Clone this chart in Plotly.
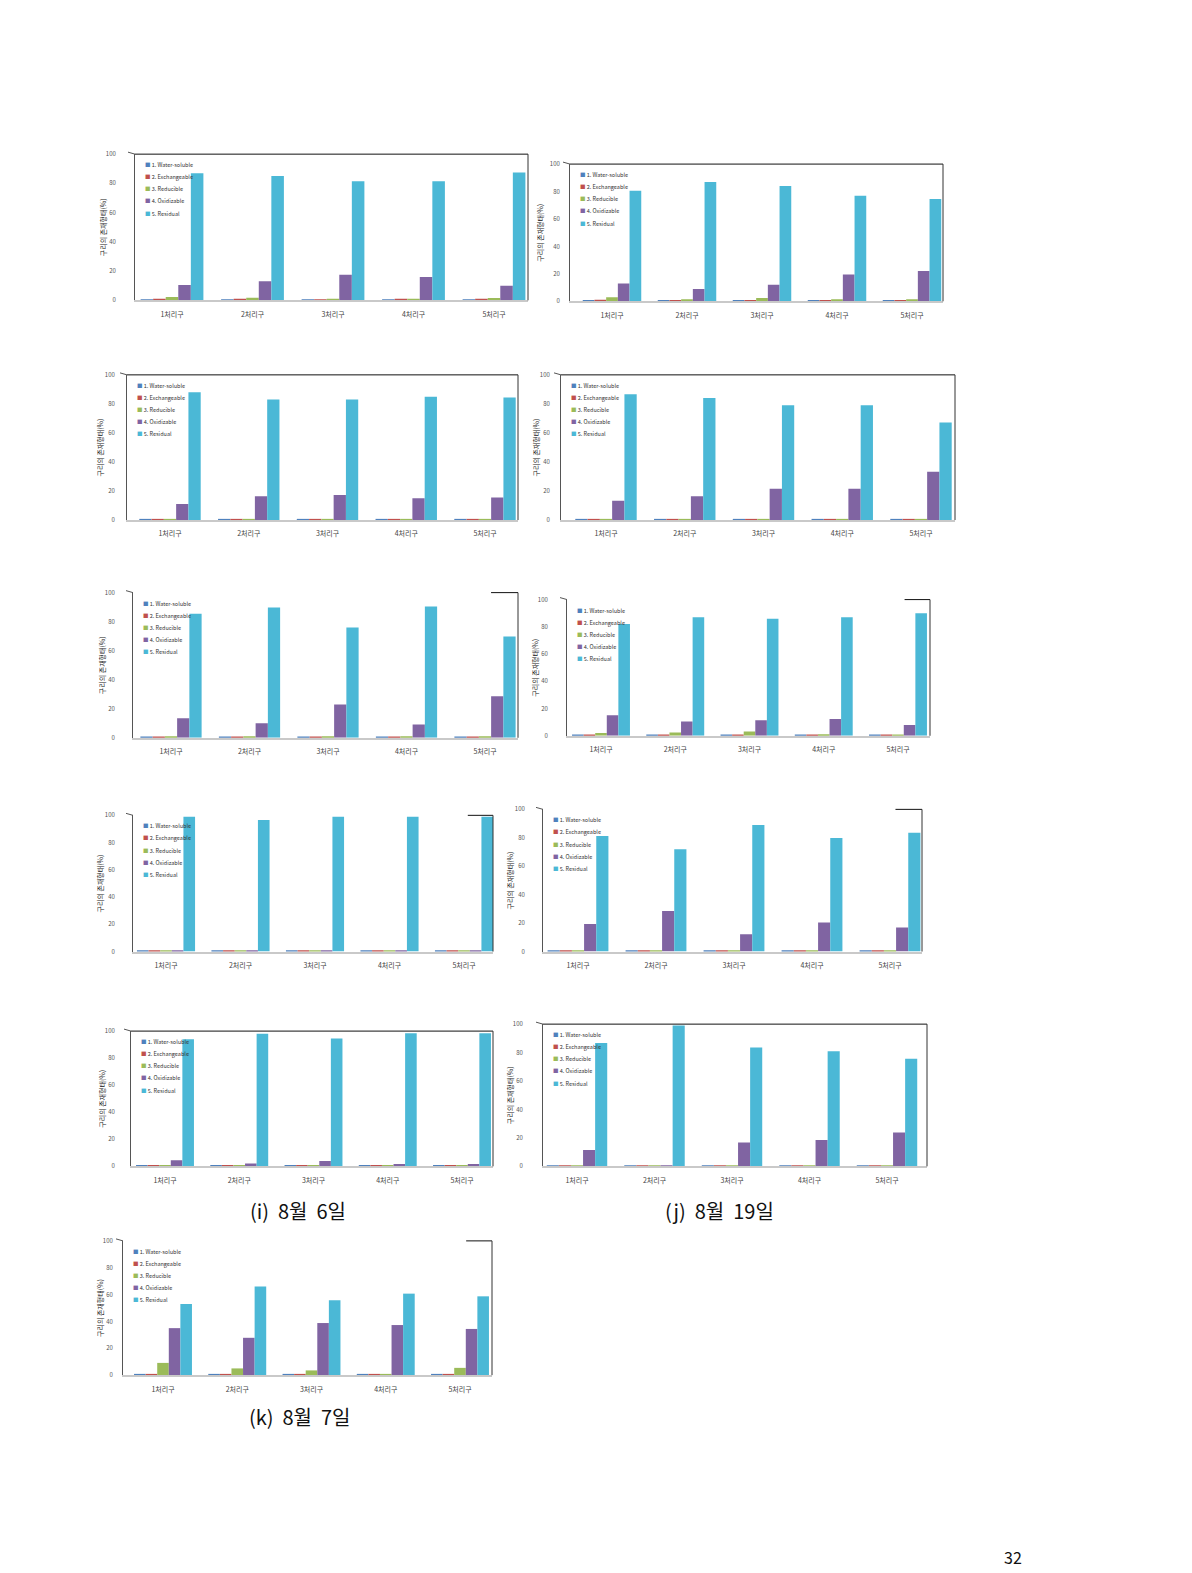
import plotly.graph_objects as go

W, H = 1192, 1573
FONT = "Noto Sans CJK KR"

categories = ["1처리구", "2처리구", "3처리구", "4처리구", "5처리구"]
fractions = ["1. Water-soluble", "2. Exchangeable", "3. Reducible", "4. Oxidizable", "5. Residual"]
colors = ["#4F81BD", "#C0504D", "#9BBB59", "#8064A2", "#4BB8D6"]
y_ticks = [0, 20, 40, 60, 80, 100]
y_title = "구리의 존재형태(%)"
captions = ["(i)  8월  6일", "(j)  8월  19일", "(k)  8월  7일"]
page_number = "32"

# ---- values (%), order: water, exchangeable, reducible, oxidizable, residual ----
a_water = [0.6, 0.5, 0.5, 0.5, 0.5]
a_exch = [1.0, 1.0, 0.6, 1.0, 1.0]
a_red = [2.2, 1.8, 1.0, 1.0, 1.6]
a_oxid = [10.5, 13.0, 17.5, 16.0, 10.0]
a_resid = [87.0, 85.0, 81.5, 81.5, 87.5]

b_water = [0.5, 0.5, 0.5, 0.5, 0.5]
b_exch = [1.2, 0.6, 0.5, 0.5, 0.5]
b_red = [3.0, 1.5, 2.4, 1.5, 1.5]
b_oxid = [13.0, 9.0, 12.0, 19.5, 22.0]
b_resid = [80.5, 87.0, 84.0, 77.0, 74.5]

c_water = [0.5, 0.5, 0.5, 0.5, 0.5]
c_exch = [0.5, 0.5, 0.5, 0.5, 0.8]
c_red = [0.8, 0.8, 0.5, 0.5, 0.8]
c_oxid = [11.0, 16.3, 17.2, 15.0, 15.6]
c_resid = [88.0, 83.0, 83.0, 85.0, 84.4]

d_water = [0.5, 0.5, 0.5, 0.5, 0.5]
d_exch = [0.5, 0.5, 0.3, 0.3, 0.3]
d_red = [0.8, 0.5, 0.3, 0.3, 0.3]
d_oxid = [13.3, 16.3, 21.6, 21.6, 33.3]
d_resid = [86.7, 84.0, 79.0, 79.0, 67.2]

e_water = [0.5, 0.5, 0.5, 0.5, 0.5]
e_exch = [0.5, 0.5, 0.5, 0.5, 0.5]
e_red = [1.0, 1.0, 1.0, 1.0, 1.0]
e_oxid = [13.5, 10.0, 22.9, 9.2, 28.6]
e_resid = [85.4, 89.7, 76.0, 90.4, 69.8]

f_water = [0.5, 0.5, 0.5, 0.5, 0.5]
f_exch = [0.5, 0.5, 0.5, 0.5, 0.5]
f_red = [2.0, 2.4, 3.2, 1.2, 1.0]
f_oxid = [15.0, 10.5, 11.4, 12.4, 8.0]
f_resid = [82.0, 87.0, 86.0, 87.0, 90.0]

g_water = [0.3, 0.3, 0.3, 0.3, 0.3]
g_exch = [0.5, 1.0, 0.3, 0.3, 0.3]
g_red = [0.3, 0.6, 0.3, 0.3, 0.3]
g_oxid = [0.5, 1.0, 0.3, 0.3, 0.3]
g_resid = [99.0, 96.5, 99.0, 99.0, 99.0]

h_water = [0.3, 0.3, 0.3, 0.3, 0.3]
h_exch = [0.3, 0.3, 0.3, 0.5, 0.3]
h_red = [0.3, 0.3, 0.3, 0.3, 0.3]
h_oxid = [19.4, 28.6, 12.2, 20.4, 16.9]
h_resid = [81.3, 71.9, 89.0, 79.9, 83.6]

i_water = [0.3, 0.3, 0.3, 0.3, 0.3]
i_exch = [0.3, 0.3, 0.3, 0.3, 0.3]
i_red = [0.3, 0.3, 0.3, 0.3, 0.3]
i_oxid = [4.5, 2.0, 4.0, 1.8, 1.8]
i_resid = [94.0, 98.0, 94.5, 98.5, 98.5]

j_water = [0.3, 0.3, 0.3, 0.3, 0.3]
j_exch = [0.3, 0.2, 0.3, 0.3, 0.3]
j_red = [0.3, 0.2, 0.3, 0.3, 0.3]
j_oxid = [11.5, 0.2, 16.7, 18.6, 23.8]
j_resid = [86.8, 99.0, 83.5, 81.0, 75.7]

k_water = [0.5, 0.5, 0.3, 0.3, 0.3]
k_exch = [0.5, 0.5, 0.3, 0.3, 0.3]
k_red = [9.1, 5.0, 3.5, 0.3, 5.4]
k_oxid = [35.0, 27.8, 38.8, 37.3, 34.4]
k_resid = [53.0, 66.0, 55.8, 60.7, 58.7]

panel_values = [
    [a_water, a_exch, a_red, a_oxid, a_resid],
    [b_water, b_exch, b_red, b_oxid, b_resid],
    [c_water, c_exch, c_red, c_oxid, c_resid],
    [d_water, d_exch, d_red, d_oxid, d_resid],
    [e_water, e_exch, e_red, e_oxid, e_resid],
    [f_water, f_exch, f_red, f_oxid, f_resid],
    [g_water, g_exch, g_red, g_oxid, g_resid],
    [h_water, h_exch, h_red, h_oxid, h_resid],
    [i_water, i_exch, i_red, i_oxid, i_resid],
    [j_water, j_exch, j_red, j_oxid, j_resid],
    [k_water, k_exch, k_red, k_oxid, k_resid],
]

# ---- page geometry in pixels (layout only) ----
# axis_x, right_x, first group center, last group center, y of 100, y of 0,
# y-title x, frame style, tick-label standoff
geometry = [
    (135, 528, 172, 494, 150, 297, 103, "full", 17),
    (570, 943, 612, 912, 160, 298, 540, "full", 8),
    (127, 518, 170, 485, 372, 518, 100, "full", 10),
    (561, 955, 606, 921, 372, 518, 536, "full", 9),
    (133, 518, 171, 485, 591, 737, 102, "corner", 16),
    (567, 930, 601, 898, 598, 735, 535, "corner", 17),
    (133, 493, 166, 464, 815, 952, 100, "corner", 16),
    (543, 922, 578, 890, 809, 952, 510, "corner", 16),
    (131, 493, 165, 462, 1032, 1168, 102, "full", 14),
    (543, 927, 577, 887, 1025, 1168, 510, "full", 18),
    (123, 492, 163, 460, 1243, 1378, 100, "corner", 8),
]

fig = go.Figure()
layout = dict(
    width=W, height=H, autosize=False,
    margin=dict(l=0, r=0, t=0, b=0),
    paper_bgcolor="white", plot_bgcolor="white",
    barmode="group", bargap=0.22, bargroupgap=0.0,
    showlegend=False,
    font=dict(family=FONT, color="#333"),
)
annotations = []
shapes = []

for p, (vals, geo) in enumerate(zip(panel_values, geometry)):
    n = p + 1
    xa = "x" if n == 1 else f"x{n}"
    ya = "y" if n == 1 else f"y{n}"
    axis_x, right_x, c1, c5, y100, y0, tx, frame, standoff = geo
    sp = (c5 - c1) / 4.0
    xr = [-(c1 - axis_x) / sp, 4 + (right_x - c5) / sp]

    for s in range(5):
        fig.add_trace(go.Bar(
            x=categories, y=vals[s], name=fractions[s],
            marker=dict(color=colors[s], line=dict(width=0)),
            xaxis=xa, yaxis=ya, showlegend=False,
        ))

    layout["xaxis" if n == 1 else f"xaxis{n}"] = dict(
        domain=[axis_x / W, right_x / W], anchor=ya,
        range=xr, type="category", showgrid=False,
        showline=True, linecolor="#c9c9c9", linewidth=2,
        ticks="", tickfont=dict(family=FONT, size=7, color="#444"),
        ticklabelstandoff=6, fixedrange=True,
    )
    layout["yaxis" if n == 1 else f"yaxis{n}"] = dict(
        domain=[1 - y0 / H, 1 - y100 / H], anchor=xa,
        range=[0, 100], tickvals=y_ticks, showgrid=False,
        showline=True, linecolor="#555", linewidth=1,
        ticks="", tickfont=dict(family=FONT, size=6, color="#555"),
        ticklabelstandoff=standoff, zeroline=False, fixedrange=True,
    )

    # back-wall frame
    dref_x, dref_y = f"{xa} domain", f"{ya} domain"
    x_start = 0.0 if frame == "full" else 0.93
    shapes.append(dict(type="line", xref=dref_x, yref=dref_y, x0=x_start, x1=1, y0=1, y1=1,
                       line=dict(color="#111", width=1)))
    shapes.append(dict(type="line", xref=dref_x, yref=dref_y, x0=1, x1=1, y0=0, y1=1,
                       line=dict(color="#333", width=1)))
    # small diagonal at top of y-axis
    shapes.append(dict(type="line", xref="paper", yref="paper",
                       x0=(axis_x - 7) / W, y0=1 - (y100 - 2) / H,
                       x1=axis_x / W, y1=1 - y100 / H,
                       line=dict(color="#555", width=1)))

    # y-axis title
    annotations.append(dict(
        x=tx / W, y=1 - (y100 + y0) / 2 / H, xref="paper", yref="paper",
        text=y_title, textangle=-90, showarrow=False,
        font=dict(family=FONT, size=7, color="#222"),
        xanchor="center", yanchor="middle",
    ))
    # legend (inside the wall, top-left)
    for s in range(5):
        annotations.append(dict(
            x=(axis_x + 8) / W, y=1 - (y100 + 11 + 12.2 * s) / H,
            xref="paper", yref="paper", showarrow=False,
            xanchor="left", yanchor="middle",
            text=f"<span style='color:{colors[s]}'>■</span> {fractions[s]}",
            font=dict(family=FONT, size=5.5, color="#333"),
        ))

# captions and page number
caption_pos = [(298, 1212), (719, 1212), (299, 1420)]
for txt, (cx, cy) in zip(captions, caption_pos):
    annotations.append(dict(
        x=cx / W, y=1 - cy / H, xref="paper", yref="paper", text=txt,
        showarrow=False, xanchor="center", yanchor="middle",
        font=dict(family=FONT, size=20, color="#111"),
    ))
annotations.append(dict(
    x=1013 / W, y=1 - 1561 / H, xref="paper", yref="paper", text=page_number,
    showarrow=False, xanchor="center", yanchor="middle",
    font=dict(family=FONT, size=16, color="#111"),
))

layout["annotations"] = annotations
layout["shapes"] = shapes
fig.update_layout(**layout)

fig.write_html("out.html", config={"displayModeBar": False},
               post_script="document.body.style.margin='0px';")
